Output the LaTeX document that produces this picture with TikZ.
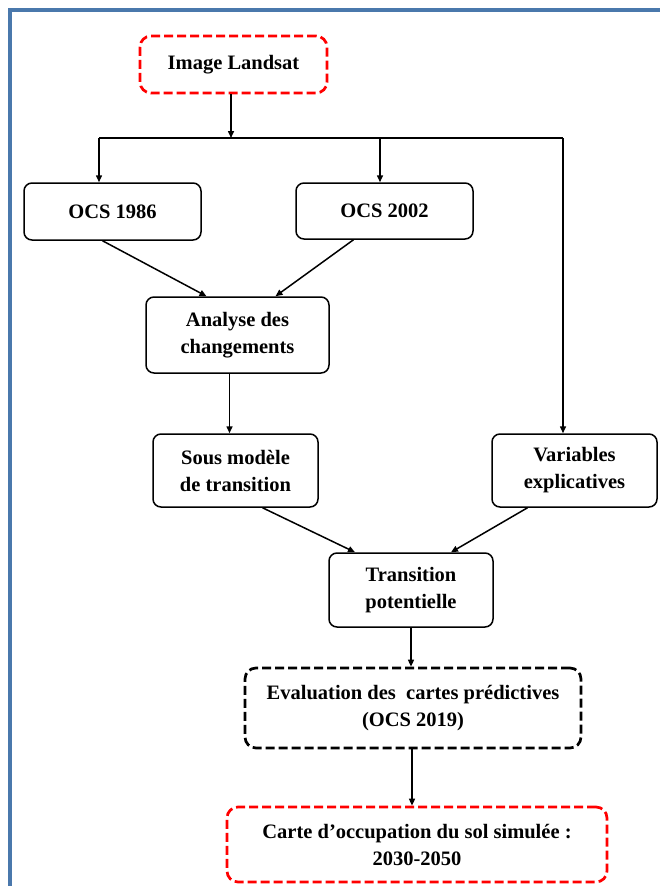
\documentclass[tikz,border=0pt]{standalone}
\usepackage{fontspec}
\setmainfont{Liberation Serif}
\usetikzlibrary{arrows.meta,calc}
\definecolor{frameblue}{RGB}{74,120,172}
\definecolor{boxred}{RGB}{255,0,0}
\begin{document}
\begin{tikzpicture}[x=1pt,y=-1pt,
  box/.style={draw=black, line width=1.5pt, rounded corners=8pt, align=center, inner sep=0pt,
              font=\fontsize{20.5}{27}\selectfont\bfseries},
  redbox/.style={box, draw=boxred, line width=2.7pt, dash pattern=on 9pt off 4pt, rounded corners=11pt},
  blackdash/.style={box, line width=2.7pt, dash pattern=on 9pt off 4pt, rounded corners=11pt},
  conn/.style={line width=1.5pt, -{Triangle[length=7pt,width=6pt]}},
  plainline/.style={line width=1.5pt}]
\useasboundingbox (0,0) rectangle (660,886);
% frame
\draw[frameblue, line width=3.5pt] (10,886) -- (10,10) -- (660,10);

% nodes
\node[redbox, minimum width=187, minimum height=57] (land) at (233.5,64.5) {Image Landsat};
\node[box, minimum width=177, minimum height=57] (o86) at (112.5,211.5) {OCS 1986};
\node[box, minimum width=177, minimum height=56] (o02) at (384.5,211) {OCS 2002};
\node[box, minimum width=183, minimum height=76] (ana) at (237.5,335) {Analyse des\\changements};
\node[box, minimum width=165, minimum height=73] (sous) at (235.5,470.5) {Sous modèle\\de transition};
\node[box, minimum width=165, minimum height=73] (var) at (574.5,470.5) {Variables\\explicatives};
\node[box, minimum width=164, minimum height=74] (trans) at (411,590) {Transition\\potentielle};
\node[blackdash, minimum width=336, minimum height=80] (eval) at (413,708) {Evaluation des~ cartes prédictives\\(OCS 2019)};
\node[redbox, minimum width=380, minimum height=75] (carte) at (417,844.5) {Carte d’occupation du sol simulée :\\2030-2050};

% junction coordinates
\coordinate (j) at (231,138);
\coordinate (jl) at (99,138);
\coordinate (jm) at (380,138);
\coordinate (jr) at (563,138);

% connectors
\draw[conn] (land.south -| j) -- (j);
\draw[plainline] (jl) -- (jr);
\draw[conn] (jl) -- (jl |- o86.north);
\draw[conn] (jm) -- (jm |- o02.north);
\draw[conn] (jr) -- (jr |- var.north);
\draw[conn] ([xshift=-10pt]o86.south) -- ([xshift=-31pt]ana.north);
\draw[conn] ([xshift=-31pt]o02.south) -- ([xshift=38pt]ana.north);
\draw[conn] ([xshift=-8pt]ana.south) -- ([xshift=-8pt]ana.south |- sous.north);
\draw[conn] ([xshift=27pt]sous.south) -- ([xshift=-56pt]trans.north);
\draw[conn] ([xshift=-47pt]var.south) -- ([xshift=40pt]trans.north);
\draw[conn] (trans.south) -- (trans.south |- eval.north);
\draw[conn] ([xshift=-1pt]eval.south) -- ([xshift=-1pt]eval.south |- carte.north);
\end{tikzpicture}
\end{document}
